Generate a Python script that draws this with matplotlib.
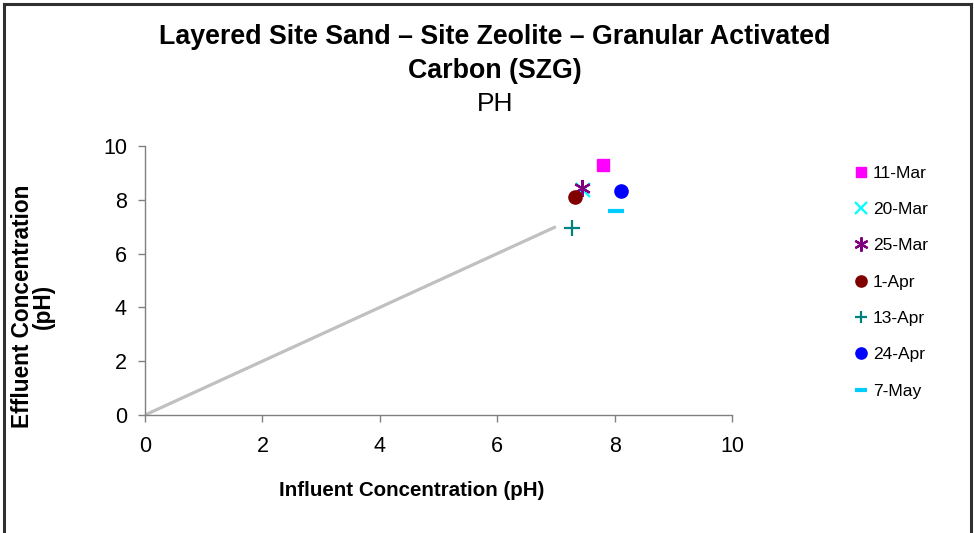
import matplotlib
matplotlib.use("Agg")
import matplotlib.pyplot as plt
from matplotlib.lines import Line2D

plt.rcParams['font.family'] = ['Liberation Sans', 'DejaVu Sans']

# Sample dates and measured pH (influent, effluent)
dates = ["11-Mar", "20-Mar", "25-Mar", "1-Apr", "13-Apr", "24-Apr", "7-May"]
influent = [7.80, 7.46, 7.45, 7.33, 7.27, 8.11, 8.02]
effluent = [9.29, 8.36, 8.44, 8.10, 6.95, 8.33, 7.58]

# 1:1 reference line
ref_x = [0, 7]
ref_y = [0, 7]

x_ticks = [0, 2, 4, 6, 8, 10]
y_ticks = [0, 2, 4, 6, 8, 10]

styles = [
    dict(marker="s", color="#FF00FF", ms=9, mew=1),
    dict(marker="x", color="#00FFFF", ms=10, mew=1.6),
    dict(marker=(6, 2, 0), color="#800080", ms=12, mew=1.6),
    dict(marker="o", color="#800000", ms=9.5, mew=1),
    dict(marker="+", color="#008080", ms=11, mew=1.6),
    dict(marker="o", color="#0000FF", ms=9.5, mew=1),
    dict(marker="_", color="#00CCFF", ms=11, mew=3),
]

fig = plt.figure(figsize=(9.74, 5.33), dpi=100)
ax = fig.add_axes([145 / 974, 1 - 415 / 533, 587 / 974, 269 / 533])

ax.plot(ref_x, ref_y, color="#C0C0C0", lw=2.3, solid_capstyle="butt", zorder=1)

handles = []
for d, xv, yv, st in zip(dates, influent, effluent, styles):
    h, = ax.plot([xv], [yv], linestyle="none", marker=st["marker"],
                 color=st["color"], markersize=st["ms"], markeredgewidth=st["mew"],
                 label=d, zorder=3)
    handles.append(h)

ax.set_xlim(0, 10)
ax.set_ylim(0, 10)
ax.set_xticks(x_ticks)
ax.set_yticks(y_ticks)
ax.tick_params(axis="both", labelsize=15.5, color="#808080", length=5, width=1,
               direction="out")
ax.tick_params(axis="x", pad=10)
ax.tick_params(axis="y", pad=8)
for side in ("top", "right"):
    ax.spines[side].set_visible(False)
for side in ("left", "bottom"):
    ax.spines[side].set_color("#808080")
    ax.spines[side].set_linewidth(1)

ax.set_xlabel("Influent Concentration (pH)", fontsize=14.8, fontweight="bold")
ax.xaxis.set_label_coords(0.455, -0.279)
ax.xaxis.label.set_verticalalignment("center")
ax.set_ylabel("Effluent Concentration\n(pH)", fontsize=16.3, fontweight="bold",
              linespacing=0.85)
ax.yaxis.set_label_coords(-0.191, 0.405)
ax.yaxis.label.set_verticalalignment("center")

fig.text(495 / 974, 1 - 37 / 533, "Layered Site Sand \u2013 Site Zeolite \u2013 Granular Activated",
         ha="center", va="center", fontsize=19.3, fontweight="bold")
fig.text(495 / 974, 1 - 71 / 533, "Carbon (SZG)", ha="center", va="center",
         fontsize=19.3, fontweight="bold")
fig.text(495 / 974, 1 - 104 / 533, "PH", ha="center", va="center", fontsize=19)

leg = fig.legend(handles=handles, loc="upper left", bbox_to_anchor=(845 / 974, 1 - 157 / 533),
                 frameon=False, fontsize=12.5, handlelength=0.9, handletextpad=0.2,
                 labelspacing=1.22, borderpad=0, markerscale=0.85)

# Outer frame on top, left and right edges
fc = "#303030"
fig.add_artist(Line2D([4 / 974, 971 / 974], [1 - 4 / 533, 1 - 4 / 533], color=fc, lw=2.2))
fig.add_artist(Line2D([4 / 974, 4 / 974], [0, 1 - 4 / 533], color=fc, lw=2.2))
fig.add_artist(Line2D([971 / 974, 971 / 974], [0, 1 - 4 / 533], color=fc, lw=2.2))

fig.savefig("out.png", dpi=100)
